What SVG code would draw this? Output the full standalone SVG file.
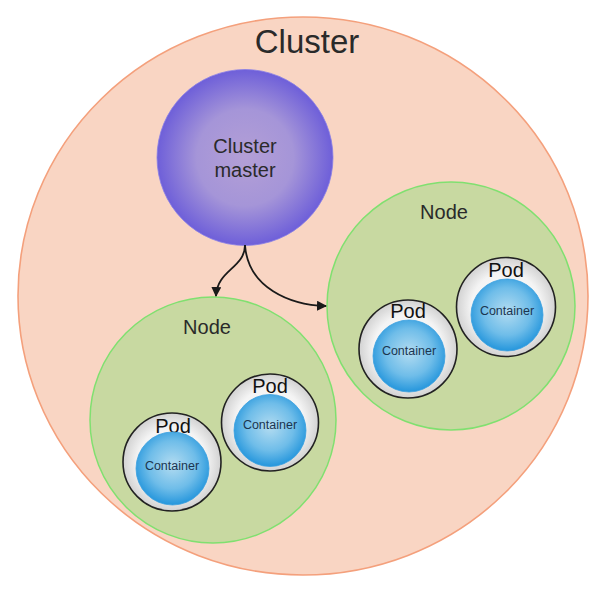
<svg xmlns="http://www.w3.org/2000/svg" width="604" height="593" viewBox="0 0 604 593">
<defs>
<radialGradient id="gMaster" cx="50%" cy="50%" r="50%">
<stop offset="0" stop-color="#b39fd6"/>
<stop offset="0.55" stop-color="#a595d8"/>
<stop offset="1" stop-color="#6e5fd9"/>
</radialGradient>
<radialGradient id="gPod" cx="50%" cy="50%" r="50%">
<stop offset="0" stop-color="#ffffff"/>
<stop offset="0.7" stop-color="#f4f4f4"/>
<stop offset="1" stop-color="#d2d2d2"/>
</radialGradient>
<radialGradient id="gCont" cx="50%" cy="45%" r="55%">
<stop offset="0" stop-color="#b3dcf1"/>
<stop offset="0.6" stop-color="#6fbde9"/>
<stop offset="1" stop-color="#2596dc"/>
</radialGradient>
<marker id="arrow" viewBox="0 0 10 10" refX="9" refY="5" markerWidth="10" markerHeight="10" markerUnits="userSpaceOnUse" orient="auto">
<path d="M0,0 L10,5 L0,10 Z" fill="#1a1a1a"/>
</marker>
</defs>
<style>
.lbl{font-family:"Liberation Sans",Arial,sans-serif;text-anchor:middle;fill:#2a2a2a}
.pod{fill:url(#gPod);stroke:#222;stroke-width:1.6}
.cont{fill:url(#gCont);stroke:#3aa0e0;stroke-width:0.8}
.podt{font-family:"Liberation Sans",Arial,sans-serif;text-anchor:middle;font-size:20px;fill:#111}
.contt{font-family:"Liberation Sans",Arial,sans-serif;text-anchor:middle;font-size:12.5px;fill:#1b3550}
.node{fill:#c8d9a1;stroke:#80e070;stroke-width:1.5}
.conn{fill:none;stroke:#1a1a1a;stroke-width:1.8}
</style>
<g id="cluster">
<ellipse cx="303" cy="296" rx="285" ry="279" fill="#f9d5c3" stroke="#f4a07c" stroke-width="1.6"/>
<text class="lbl" x="307" y="53" font-size="33">Cluster</text>
</g>
<g id="master">
<circle cx="245" cy="157.5" r="88" fill="url(#gMaster)" stroke="#8a80e6" stroke-width="0.8"/>
<text class="lbl" x="245" y="153" font-size="20">Cluster</text>
<text class="lbl" x="245" y="177" font-size="20">master</text>
</g>
<g id="node-left">
<circle class="node" cx="213" cy="420" r="123"/>
<text class="lbl" x="207" y="334" font-size="20">Node</text>
</g>
<g id="node-right">
<circle class="node" cx="451" cy="306" r="124"/>
<text class="lbl" x="444" y="219" font-size="20">Node</text>
</g>
<g id="pod-left-1">
<circle class="pod" cx="172" cy="462" r="49"/>
<text class="podt" x="173" y="433">Pod</text>
<circle class="cont" cx="172.5" cy="468.5" r="36.5"/>
<text class="contt" x="172" y="470">Container</text>
</g>
<g id="pod-left-2">
<circle class="pod" cx="270" cy="422.5" r="48.5"/>
<text class="podt" x="270" y="393">Pod</text>
<circle class="cont" cx="270" cy="430.5" r="36"/>
<text class="contt" x="270" y="429">Container</text>
</g>
<g id="pod-right-1">
<circle class="pod" cx="408" cy="349" r="49"/>
<text class="podt" x="408" y="318">Pod</text>
<circle class="cont" cx="409" cy="356" r="36"/>
<text class="contt" x="409" y="355">Container</text>
</g>
<g id="pod-right-2">
<circle class="pod" cx="506" cy="307" r="49.5"/>
<text class="podt" x="506" y="277">Pod</text>
<circle class="cont" cx="507" cy="315" r="36"/>
<text class="contt" x="507" y="315">Container</text>
</g>
<g id="connectors">
<path class="conn" d="M245,245 C245,268 217,270 216,296" marker-end="url(#arrow)"/>
<path class="conn" d="M245,245 C248,288 290,305 326,306" marker-end="url(#arrow)"/>
</g>
</svg>
